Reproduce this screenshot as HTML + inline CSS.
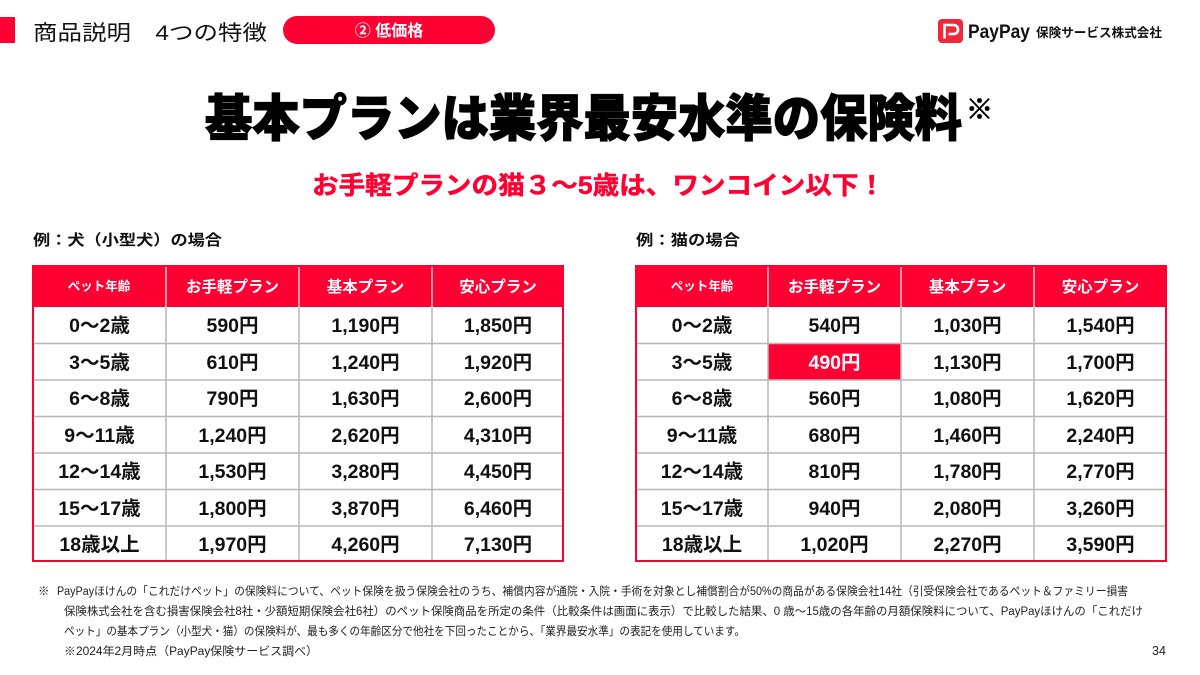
<!DOCTYPE html>
<html lang="ja">
<head>
<meta charset="utf-8">
<style>
  html, body { margin: 0; padding: 0; background: #fff; }
  body { width: 1200px; height: 675px; overflow: hidden; }
  svg { display: block; }
  text { font-family: "Liberation Sans", "Noto Sans CJK JP", sans-serif; }
  .b { font-weight: 700; }
  .cell { font-size: 19.5px; font-weight: 700; fill: #111; }
  .hd { font-size: 15.5px; font-weight: 700; fill: #fff; }
  .hds { font-size: 12.5px; font-weight: 700; fill: #fff; }
  .fn { font-size: 11.5px; fill: #222; }
  .grid { stroke: #b8b8b8; stroke-width: 1.5; }
  .hgrid { stroke: #f0c8cf; stroke-width: 1.5; }
</style>
</head>
<body>
<svg width="1200" height="675" viewBox="0 0 1200 675" xmlns="http://www.w3.org/2000/svg">
  <!-- top header -->
  <rect x="0" y="17" width="15" height="26" fill="#FF0033"/>
  <text x="33" y="40" font-size="21" fill="#111" textLength="234" lengthAdjust="spacingAndGlyphs">商品説明　4つの特徴</text>
  <rect x="283" y="16" width="212" height="28" rx="14" ry="14" fill="#FF0033"/>
  <text x="389" y="36" font-size="16" class="b" fill="#fff" text-anchor="middle">② 低価格</text>

  <!-- logo -->
  <rect x="938" y="19" width="25" height="24" rx="4" ry="4" fill="#F0283C"/>
  <path d="M944.5 38.5 L944.5 25 L953 25 Q958 25 958 29.5 Q958 34 953 34 L948.5 34" fill="none" stroke="#fff" stroke-width="2.6"/>
  <text x="968" y="38" font-size="19.5" fill="#111" font-weight="700" textLength="62" lengthAdjust="spacingAndGlyphs">PayPay</text>
  <text x="1036" y="37" font-size="12.5" class="b" fill="#111" textLength="126" lengthAdjust="spacingAndGlyphs">保険サービス株式会社</text>

  <!-- title -->
  <text x="205" y="136" font-size="50" font-weight="900" fill="#000" stroke="#000" stroke-width="1.2" textLength="757" lengthAdjust="spacingAndGlyphs">基本プランは業界最安水準の保険料</text>
  <text x="966" y="119" font-size="27" font-weight="700" fill="#000" stroke="#000" stroke-width="0.8">※</text>

  <!-- subtitle -->
  <text x="312" y="194" font-size="25" font-weight="700" fill="#FF0033" stroke="#FF0033" stroke-width="0.5" textLength="573" lengthAdjust="spacingAndGlyphs">お手軽プランの猫３～5歳は、ワンコイン以下！</text>

  <!-- section labels -->
  <text x="33" y="245" font-size="15" class="b" fill="#111" textLength="189" lengthAdjust="spacingAndGlyphs">例：犬（小型犬）の場合</text>
  <text x="636" y="245" font-size="15" class="b" fill="#111" textLength="104" lengthAdjust="spacingAndGlyphs">例：猫の場合</text>

  <!-- LEFT TABLE -->
  <g>
    <rect x="32" y="265" width="532" height="42" fill="#FF0033"/>
    <line class="hgrid" x1="166" y1="266" x2="166" y2="307"/>
    <line class="hgrid" x1="299" y1="266" x2="299" y2="307"/>
    <line class="hgrid" x1="432" y1="266" x2="432" y2="307"/>
    <line class="grid" x1="166" y1="307" x2="166" y2="562"/>
    <line class="grid" x1="299" y1="307" x2="299" y2="562"/>
    <line class="grid" x1="432" y1="307" x2="432" y2="562"/>
    <line class="grid" x1="32" y1="343.5" x2="564" y2="343.5"/>
    <line class="grid" x1="32" y1="380" x2="564" y2="380"/>
    <line class="grid" x1="32" y1="416.5" x2="564" y2="416.5"/>
    <line class="grid" x1="32" y1="453" x2="564" y2="453"/>
    <line class="grid" x1="32" y1="489.5" x2="564" y2="489.5"/>
    <line class="grid" x1="32" y1="526" x2="564" y2="526"/>
    <rect x="33" y="266" width="530" height="295" fill="none" stroke="#FF0033" stroke-width="2"/>

    <text class="hds" x="99" y="290.5" text-anchor="middle">ペット年齢</text>
    <text class="hd" x="232.5" y="292" text-anchor="middle">お手軽プラン</text>
    <text class="hd" x="365.5" y="292" text-anchor="middle">基本プラン</text>
    <text class="hd" x="498" y="292" text-anchor="middle">安心プラン</text>

    <g class="cell" text-anchor="middle">
      <text x="99.5" y="332">0～2歳</text><text x="232.5" y="332">590円</text><text x="365.5" y="332">1,190円</text><text x="498" y="332">1,850円</text>
      <text x="99.5" y="369">3～5歳</text><text x="232.5" y="369">610円</text><text x="365.5" y="369">1,240円</text><text x="498" y="369">1,920円</text>
      <text x="99.5" y="405">6～8歳</text><text x="232.5" y="405">790円</text><text x="365.5" y="405">1,630円</text><text x="498" y="405">2,600円</text>
      <text x="99.5" y="442">9～11歳</text><text x="232.5" y="442">1,240円</text><text x="365.5" y="442">2,620円</text><text x="498" y="442">4,310円</text>
      <text x="99.5" y="478">12～14歳</text><text x="232.5" y="478">1,530円</text><text x="365.5" y="478">3,280円</text><text x="498" y="478">4,450円</text>
      <text x="99.5" y="515">15～17歳</text><text x="232.5" y="515">1,800円</text><text x="365.5" y="515">3,870円</text><text x="498" y="515">6,460円</text>
      <text x="99.5" y="551">18歳以上</text><text x="232.5" y="551">1,970円</text><text x="365.5" y="551">4,260円</text><text x="498" y="551">7,130円</text>
    </g>
  </g>

  <!-- RIGHT TABLE -->
  <g>
    <rect x="635" y="265" width="532" height="42" fill="#FF0033"/>
    <rect x="768" y="343.5" width="133" height="36.5" fill="#FF0033"/>
    <line class="hgrid" x1="768" y1="266" x2="768" y2="307"/>
    <line class="hgrid" x1="901" y1="266" x2="901" y2="307"/>
    <line class="hgrid" x1="1034" y1="266" x2="1034" y2="307"/>
    <line class="grid" x1="768" y1="307" x2="768" y2="562"/>
    <line class="grid" x1="901" y1="307" x2="901" y2="562"/>
    <line class="grid" x1="1034" y1="307" x2="1034" y2="562"/>
    <line class="grid" x1="635" y1="343.5" x2="1167" y2="343.5"/>
    <line class="grid" x1="635" y1="380" x2="1167" y2="380"/>
    <line class="grid" x1="635" y1="416.5" x2="1167" y2="416.5"/>
    <line class="grid" x1="635" y1="453" x2="1167" y2="453"/>
    <line class="grid" x1="635" y1="489.5" x2="1167" y2="489.5"/>
    <line class="grid" x1="635" y1="526" x2="1167" y2="526"/>
    <rect x="636" y="266" width="530" height="295" fill="none" stroke="#FF0033" stroke-width="2"/>

    <text class="hds" x="702" y="290.5" text-anchor="middle">ペット年齢</text>
    <text class="hd" x="834.5" y="292" text-anchor="middle">お手軽プラン</text>
    <text class="hd" x="967.5" y="292" text-anchor="middle">基本プラン</text>
    <text class="hd" x="1100.5" y="292" text-anchor="middle">安心プラン</text>

    <g class="cell" text-anchor="middle">
      <text x="702" y="332">0～2歳</text><text x="834.5" y="332">540円</text><text x="967.5" y="332">1,030円</text><text x="1100.5" y="332">1,540円</text>
      <text x="702" y="369">3～5歳</text><text x="834.5" y="369" fill="#fff">490円</text><text x="967.5" y="369">1,130円</text><text x="1100.5" y="369">1,700円</text>
      <text x="702" y="405">6～8歳</text><text x="834.5" y="405">560円</text><text x="967.5" y="405">1,080円</text><text x="1100.5" y="405">1,620円</text>
      <text x="702" y="442">9～11歳</text><text x="834.5" y="442">680円</text><text x="967.5" y="442">1,460円</text><text x="1100.5" y="442">2,240円</text>
      <text x="702" y="478">12～14歳</text><text x="834.5" y="478">810円</text><text x="967.5" y="478">1,780円</text><text x="1100.5" y="478">2,770円</text>
      <text x="702" y="515">15～17歳</text><text x="834.5" y="515">940円</text><text x="967.5" y="515">2,080円</text><text x="1100.5" y="515">3,260円</text>
      <text x="702" y="551">18歳以上</text><text x="834.5" y="551">1,020円</text><text x="967.5" y="551">2,270円</text><text x="1100.5" y="551">3,590円</text>
    </g>
  </g>

  <!-- footnotes -->
  <text class="fn" x="38" y="595">※</text>
  <text class="fn" x="57" y="595" textLength="1071" lengthAdjust="spacingAndGlyphs">PayPayほけんの「これだけペット」の保険料について、ペット保険を扱う保険会社のうち、補償内容が通院・入院・手術を対象とし補償割合が50%の商品がある保険会社14社（引受保険会社であるペット＆ファミリー損害</text>
  <text class="fn" x="64" y="615" textLength="1079" lengthAdjust="spacingAndGlyphs">保険株式会社を含む損害保険会社8社・少額短期保険会社6社）のペット保険商品を所定の条件（比較条件は画面に表示）で比較した結果、0 歳～15歳の各年齢の月額保険料について、PayPayほけんの「これだけ</text>
  <text class="fn" x="64" y="635" textLength="681" lengthAdjust="spacingAndGlyphs">ペット」の基本プラン（小型犬・猫）の保険料が、最も多くの年齢区分で他社を下回ったことから、「業界最安水準」の表記を使用しています。</text>
  <text class="fn" x="64" y="655" textLength="254" lengthAdjust="spacingAndGlyphs">※2024年2月時点（PayPay保険サービス調べ）</text>
  <text x="1152" y="655" font-size="12.5" fill="#222">34</text>
</svg>
</body>
</html>
